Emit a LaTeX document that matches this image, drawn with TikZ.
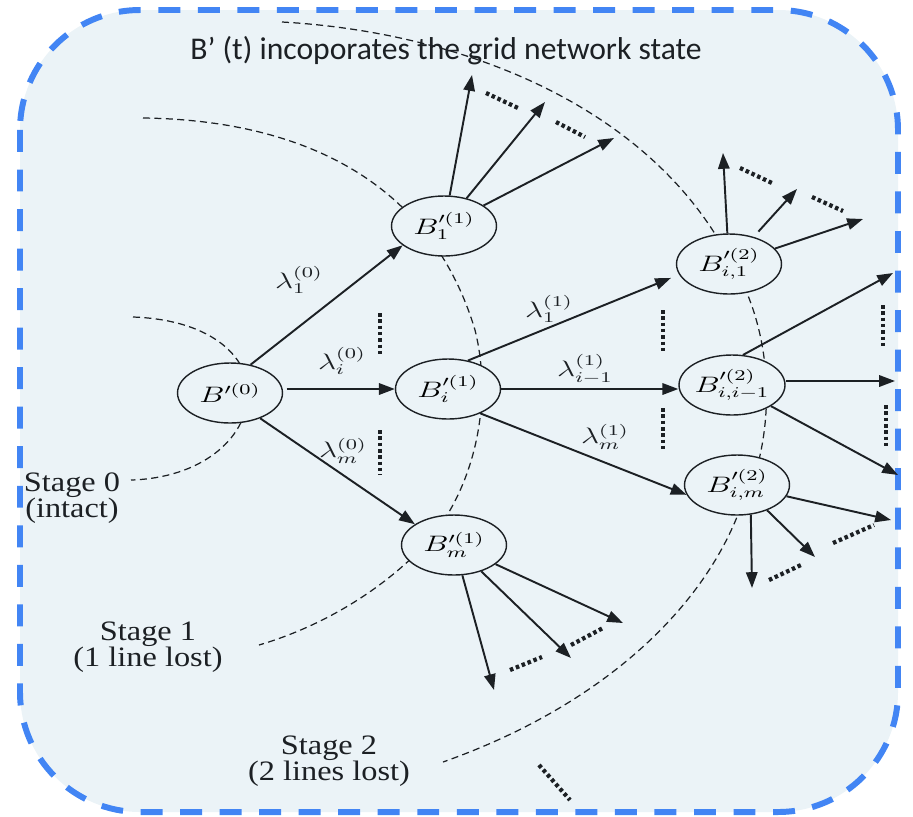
\documentclass[tikz,border=0pt]{standalone}
\usepackage{fontspec}
\setmainfont{Liberation Serif}
\newfontfamily\titlefont{Carlito}
\usepackage{graphicx}
\usetikzlibrary{arrows.meta, shapes.geometric}
\definecolor{bgblue}{RGB}{235,243,247}
\definecolor{frameblue}{RGB}{66,133,244}
\definecolor{inkblack}{RGB}{28,32,36}
\newcommand{\wx}[1]{\scalebox{1.15}[1]{#1}}
\newcommand{\wm}[1]{\scalebox{1.5}[1.06]{#1}}

\begin{document}
\begin{tikzpicture}[x=0.02cm, y=-0.02cm,
  frame/.style={draw=frameblue, fill=bgblue, line width=3.4pt, dash pattern=on 12.5pt off 10pt, rounded corners=2.4cm},
  state/.style={ellipse, draw=inkblack, line width=0.8pt, fill=bgblue, minimum width=2.1cm, minimum height=1.2cm, inner sep=0pt, font=\fontsize{12}{15}\selectfont},
  lab/.style={inner sep=0pt, text=inkblack, font=\fontsize{12}{15}\selectfont},
  stagetxt/.style={align=center, inner sep=0pt, text=inkblack, font=\fontsize{16}{15}\selectfont},
  arr/.style={draw=inkblack, line width=1.1pt, -{Triangle[length=9pt, width=6.5pt]}},
  stageline/.style={draw=inkblack, line width=0.7pt, dash pattern=on 4pt off 2.5pt},
  dots/.style={draw=inkblack, line width=2.4pt, dash pattern=on 2pt off 1.6pt}]
  \useasboundingbox (0,0) rectangle (913,816);

  % frame
  \draw[frame] (20,10) rectangle (898,812);

  % stage borders
  \draw[stageline] (133,317) .. controls (215,320) and (250,360) .. (248,395)
    .. controls (246,440) and (200,478) .. (131,480);
  \draw[stageline] (143,118) .. controls (300,120) and (430,180) .. (475,330)
    .. controls (495,410) and (470,500) .. (420,550)
    .. controls (370,600) and (310,630) .. (259,645);
  \draw[stageline] (282,22) .. controls (460,32) and (650,105) .. (730,260)
    .. controls (780,340) and (775,450) .. (737,517)
    .. controls (695,620) and (590,710) .. (443,762);

  % title
  \node[anchor=base, inner sep=0pt, text=inkblack, font={\titlefont\fontsize{18}{22}\selectfont}] (title) at (446,59) {B’ (t) incoporates the grid network state};

  % states
  \node[state] (b0) at (230,393) {\wm{$B'^{(0)}$}};
  \node[state] (b1) at (444,226) {\wm{$B_1^{\prime(1)}$}};
  \node[state] (bi) at (448,389) {\wm{$B_i^{\prime(1)}$}};
  \node[state] (bm) at (454,545) {\wm{$B_m^{\prime(1)}$}};
  \node[state] (bi1) at (729,264) {\wm{$B_{i,1}^{\prime(2)}$}};
  \node[state] (bii) at (732,385) {\wm{$B_{i,i-1}^{\prime(2)}$}};
  \node[state] (bim) at (737,485) {\wm{$B_{i,m}^{\prime(2)}$}};

  % transitions
  \draw[arr] (b0.54) -- (b1.205);
  \draw[arr, shorten <=2pt] (b0.east |- bi.west) -- (bi.west);
  \draw[arr] (b0.-40) -- (bm.152);
  \draw[arr, shorten >=5pt] (bi.55) -- (bi1.192);
  \draw[arr] (bi.east) -- (bii.west |- bi.east);
  \draw[arr] (bi.-37) -- (bim.191);

  % rates
  \node[lab] (l10) at (299,280) {\wm{$\lambda_1^{(0)}$}};
  \node[lab] (li0) at (342,361) {\wm{$\lambda_i^{(0)}$}};
  \node[lab] (lm0) at (343,451) {\wm{$\lambda_m^{(0)}$}};
  \node[lab] (l11) at (549,309) {\wm{$\lambda_1^{(1)}$}};
  \node[lab] (li1) at (585,369) {\wm{$\lambda_{i-1}^{(1)}$}};
  \node[lab] (lm1) at (605,437) {\wm{$\lambda_m^{(1)}$}};

  % open ends
  \coordinate (c1a) at (472,75);
  \coordinate (c1b) at (545,102);
  \coordinate (c1c) at (614,138);
  \coordinate (d1a) at (723,153);
  \coordinate (d1b) at (797,189);
  \coordinate (d1c) at (863,219);
  \coordinate (d2a) at (893,273);
  \coordinate (d2b) at (895,381);
  \coordinate (d2c) at (898,475);
  \coordinate (d3a) at (891,520);
  \coordinate (d3b) at (815,557);
  \coordinate (d3c) at (752,588);
  \coordinate (m1) at (623,623);
  \coordinate (m2) at (571,658);
  \coordinate (m3) at (494,690);

  \draw[arr] (b1) -- (c1a);
  \draw[arr] (b1) -- (c1b);
  \draw[arr] (b1) -- (c1c);
  \draw[arr] (bi1) -- (d1a);
  \draw[arr, shorten <=4pt] (bi1) -- (d1b);
  \draw[arr] (bi1) -- (d1c);
  \draw[arr] (bii.70) -- (d2a);
  \draw[arr] (bii.east |- d2b) -- (d2b);
  \draw[arr] (bii) -- (d2c);
  \draw[arr] (bim) -- (d3a);
  \draw[arr] (bim.-40) -- (d3b);
  \draw[arr] (bim.-65) -- (d3c);
  \draw[arr] (bm) -- (m1);
  \draw[arr] (bm) -- (m2);
  \draw[arr] (bm) -- (m3);

  % dotted gaps
  \draw[dots] (380,313) -- (380,357);
  \draw[dots] (380,430) -- (380,475);
  \draw[dots] (663,310) -- (663,353);
  \draw[dots] (663,408) -- (663,452);
  \draw[dots] (883,305) -- (883,348);
  \draw[dots] (886,405) -- (886,447);
  \draw[dots] (486,93) -- (518,108);
  \draw[dots] (556,122) -- (585,137);
  \draw[dots] (740,168) -- (772,183);
  \draw[dots] (812,197) -- (843,211);
  \draw[dots] (769,580) -- (801,565);
  \draw[dots] (833,543) -- (874,525);
  \draw[dots] (510,670) -- (542,657);
  \draw[dots] (571,645) -- (603,628);
  \draw[dots] (539,765) -- (570,800);

  % stages
  \node[stagetxt] (s0) at (72,498) {\wx{Stage 0}\\\wx{(intact)}};
  \node[stagetxt] (s1) at (148,647) {\wx{Stage 1}\\\wx{(1 line lost)}};
  \node[stagetxt] (s2) at (329,761) {\wx{Stage 2}\\\wx{(2 lines lost)}};
\end{tikzpicture}
\end{document}
